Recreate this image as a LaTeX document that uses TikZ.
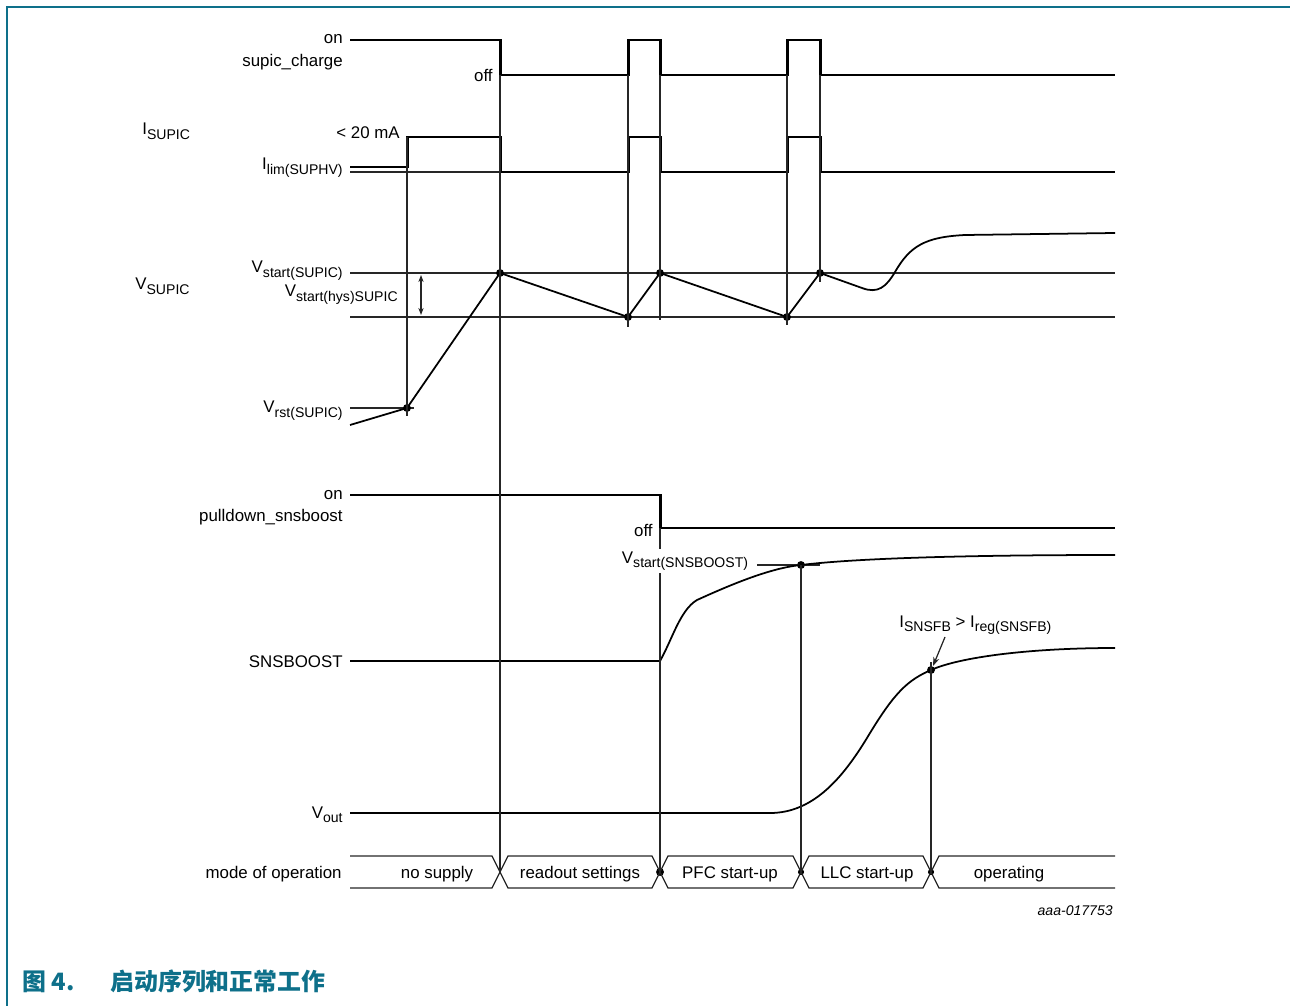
\documentclass[tikz,border=0pt]{standalone}
\usepackage{fontspec}
\setmainfont{Liberation Sans}
\newfontfamily\cjk{Noto Sans CJK SC}
\usetikzlibrary{arrows.meta}
\definecolor{nxpteal}{RGB}{14,112,138}
\newcommand{\sbs}[1]{\raisebox{-2.3pt}{\fontsize{8}{9}\selectfont #1}}

\begin{document}
\begin{tikzpicture}[
    x=0.02cm, y=-0.02cm,
    every node/.style={inner sep=0pt, font=\fontsize{9.6}{11}\selectfont},
    lbl/.style={anchor=base east},
    sig/.style={line width=1.7pt, line join=miter},
    ana/.style={line width=1pt},
    guide/.style={line width=0.7pt, black!85},
    dot/.style={circle, fill, minimum size=4.5pt},
    smalldot/.style={circle, fill, minimum size=3.5pt}
  ]
  \useasboundingbox (0,0) rectangle (1290,1006);
  \draw[nxpteal, line width=1.1pt] (7,1006) -- (7,7) -- (1290,7);

  % supic_charge and I_SUPIC
  \draw[sig] (350,40) -- (500,40) -- (500,75) -- (628,75) -- (628,40) -- (660,40)
    -- (660,75) -- (787,75) -- (787,40) -- (820,40) -- (820,75) -- (1115,75);
  \draw[guide] (350,172) -- (500,172);
  \draw[sig] (350,167) -- (407,167) -- (407,137) -- (500,137) -- (500,172) -- (628,172)
    -- (628,137) -- (660,137) -- (660,172) -- (787,172) -- (787,137) -- (820,137)
    -- (820,172) -- (1115,172);

  % V_SUPIC
  \draw[guide] (350,273) -- (1115,273);
  \draw[guide] (350,317) -- (1115,317);
  \draw[guide] (350,408) -- (414,408);
  \coordinate (h1) at (421,275);
  \coordinate (h2) at (421,315);
  \draw[guide, {Stealth[length=4pt,width=3pt]}-{Stealth[length=4pt,width=3pt]}] (h1) -- (h2);
  \node (vr) [dot] at (407,408) {};
  \node (v1) [dot] at (500,273) {};
  \node (v2) [dot] at (628,317) {};
  \node (v3) [dot] at (660,273) {};
  \node (v4) [dot] at (787,317) {};
  \node (v5) [dot] at (820,273) {};
  \draw[ana] (350,425) -- (vr.center) -- (v1.center) -- (v2.center) -- (v3.center)
    -- (v4.center) -- (v5.center) -- (862,288) .. controls (878,294) and (886,287) .. (895,272)
    .. controls (910,246) and (925,237) .. (965,235) -- (1115,233);

  % pulldown_snsboost
  \draw[sig] (350,495) -- (660,495) -- (660,528) -- (1115,528);

  % SNSBOOST and Vout
  \node (sb) [dot] at (801,565) {};
  \node (vo) [dot] at (931,670) {};
  \draw[guide] (757,565) -- (820,565);
  \draw[ana] (350,661) -- (660,661) .. controls (672,640) and (680,610) .. (697,600)
    .. controls (730,585) and (770,568) .. (sb.center)
    .. controls (850,559) and (950,555) .. (1115,555);
  \draw[ana] (350,813) -- (770,813) .. controls (815,813) and (845,775) .. (870,733)
    .. controls (895,692) and (908,680) .. (vo.center)
    .. controls (960,657) and (1030,648) .. (1115,648);
  \coordinate (a1) at (945,637);
  \coordinate (a2) at (933,666);
  \draw[guide, -{Stealth[length=5pt,width=3.5pt]}] (a1) -- (a2);

  % mode of operation
  \coordinate (m1) at (500,872);
  \node (m2) [dot] at (660,872) {};
  \node (m3) [smalldot] at (801,872) {};
  \node (m4) [smalldot] at (931,872) {};
  \draw[guide] (350,856) -- (492,856) -- (m1) -- (492,888) -- (350,888);
  \foreach \a/\b in {500/660, 660/801, 801/931}
    \draw[guide] (\a+8,856) -- (\b-8,856) -- (\b,872) -- (\b-8,888) -- (\a+8,888) -- (\a,872) -- cycle;
  \draw[guide] (1115,856) -- (939,856) -- (m4.center) -- (939,888) -- (1115,888);
  \node (ms1) [anchor=base] at (437,878) {no supply};
  \node (ms2) [anchor=base] at (580,878) {readout settings};
  \node (ms3) [anchor=base] at (730,878) {PFC start-up};
  \node (ms4) [anchor=base] at (867,878) {LLC start-up};
  \node (ms5) [anchor=base] at (1009,878) {operating};

  % time markers
  \coordinate (c0) at (407,137);
  \coordinate (c0b) at (407,416);
  \coordinate (c1) at (500,75);
  \coordinate (c2) at (628,75);
  \coordinate (c2b) at (628,327);
  \coordinate (c3) at (660,75);
  \coordinate (c3b) at (660,320);
  \coordinate (c4) at (787,75);
  \coordinate (c4b) at (787,325);
  \coordinate (c5) at (820,75);
  \coordinate (c5b) at (820,282);
  \coordinate (pd) at (660,528);
  \coordinate (vot) at (931,662);
  \draw[guide] (c0) -- (c0b);
  \draw[guide] (c1) -- (m1);
  \draw[guide] (c2) -- (c2b);
  \draw[guide] (c3) -- (c3b);
  \draw[guide] (c4) -- (c4b);
  \draw[guide] (c5) -- (c5b);
  \draw[guide] (pd) -- (m2.center);
  \draw[guide] (sb.center) -- (m3.center);
  \draw[guide] (vot) -- (m4.center);

  % labels
  \node (on1) [lbl] at (343,44) {on};
  \node (chg) [lbl] at (343,67) {supic\_charge};
  \node (off1) [lbl] at (493,82) {off};
  \node (isup) [anchor=base west] at (142,135) {I\sbs{SUPIC}};
  \node (lim) [lbl] at (400,139) {< 20 mA};
  \node (ilim) [lbl] at (343,170) {I\sbs{lim(SUPHV)}};
  \node (vsup) [anchor=base west] at (135,290) {V\sbs{SUPIC}};
  \node (vst) [lbl] at (343,273) {V\sbs{start(SUPIC)}};
  \node (vhys) [lbl] at (398,297) {V\sbs{start(hys)SUPIC}};
  \node (vrst) [lbl] at (343,413) {V\sbs{rst(SUPIC)}};
  \node (on2) [lbl] at (343,499) {on};
  \node (pdn) [lbl] at (343,521) {pulldown\_snsboost};
  \node (off2) [lbl] at (653,536) {off};
  \node (vsb) [lbl, fill=white, inner sep=1.5pt] at (751,563) {V\sbs{start(SNSBOOST)}};
  \node (snsb) [lbl] at (343,667) {SNSBOOST};
  \node (vout) [lbl] at (343,818) {V\sbs{out}};
  \node (mode) [lbl] at (342,878) {mode of operation};
  \node (isns) [anchor=base west] at (899,627) {I\sbs{SNSFB} > I\sbs{reg(SNSFB)}};

  \node (tag) [anchor=base east, font=\fontsize{8}{10}\selectfont\itshape] at (1113,915) {aaa-017753};
  \node (fig) [anchor=base west, text=nxpteal, font=\cjk\bfseries\fontsize{13.6}{16}\selectfont] at (22,990) {图 4.};
  \node (cap) [anchor=base west, text=nxpteal, font=\cjk\bfseries\fontsize{13.6}{16}\selectfont] at (110,990) {启动序列和正常工作};
\end{tikzpicture}
\end{document}
